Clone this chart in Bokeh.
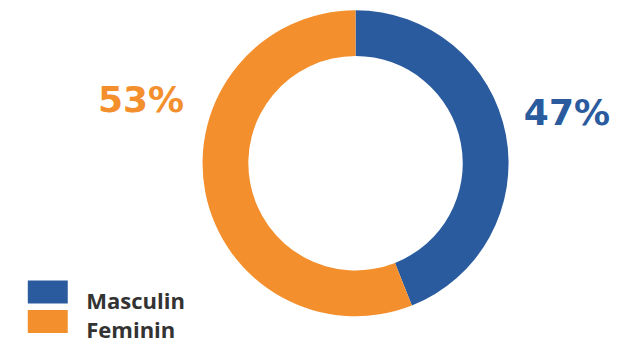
import math
from bokeh.plotting import figure
from bokeh.models import Range1d, ColumnDataSource
from bokeh.core.properties import value
from bokeh.embed import file_html
from bokeh.resources import INLINE

# Data
categories = ["Masculin", "Feminin"]
slice_values = [44, 56]          # arc shares as drawn in the picture
pct_labels = ["47%", "53%"]      # printed labels
colors = ["#2A5B9E", "#F48F2D"]

W, H = 630, 360
p = figure(width=614, height=344, x_range=Range1d(0, W), y_range=Range1d(0, H),
           min_border=0, toolbar_location=None, output_backend="svg")
p.axis.visible = False
p.grid.visible = False
p.outline_line_color = None
p.background_fill_color = "white"
p.border_fill_color = "white"

def Y(py):
    return H - py

# Donut
cx, cy = 364.3, Y(170.3)
total = sum(slice_values)
starts, ends = [], []
ang = math.pi / 2
for v in slice_values:
    sweep = 2 * math.pi * v / total
    starts.append(ang - sweep)
    ends.append(ang)
    ang -= sweep
src = ColumnDataSource(dict(x=[cx] * len(slice_values), y=[cy] * len(slice_values),
                            start=starts, end=ends, color=colors))
p.annular_wedge(x="x", y="y", inner_radius=110, outer_radius=157,
                start_angle="start", end_angle="end", fill_color="color",
                line_color=None, source=src)

# Percentage labels
label_pos = [(537, 117), (100, 104)]
for (lx, ly), txt, col in zip(label_pos, pct_labels, colors):
    p.text(x=[lx], y=[Y(ly)], text=[txt], text_font=value("DejaVu Sans"),
           text_font_style="bold", text_font_size="36px", text_color=col,
           text_baseline="alphabetic", text_align="left")

# Legend
for i, (cat, col) in enumerate(zip(categories, colors)):
    top = 293 + i * 31
    p.quad(left=[28], right=[69], top=[Y(top)], bottom=[Y(top + 24)],
           fill_color=col, line_color=None)
    p.text(x=[88], y=[Y(top + 20)], text=[cat], text_font=value("Open Sans"),
           text_font_style="bold", text_font_size="22px", text_color="#333333",
           text_baseline="alphabetic", text_align="left")

open("out.html", "w").write(file_html(p, INLINE))
